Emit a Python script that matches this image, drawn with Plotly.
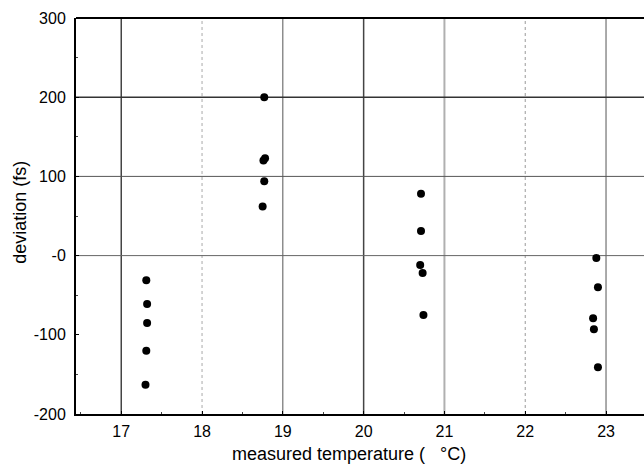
import plotly.graph_objects as go

temp = [17.31, 17.32, 17.32, 17.31, 17.30,
        18.77, 18.78, 18.76, 18.77, 18.75,
        20.71, 20.70, 20.73, 20.74,
        20.71,
        22.88, 22.90, 22.84, 22.85, 22.90]
dev = [-31, -61, -85, -120, -163,
       200, 123, 120, 94, 62,
       78, -12, -22, -75,
       31,
       -3, -40, -79, -93, -141]

x_ticks = [17, 18, 19, 20, 21, 22, 23]
y_ticks = [-200, -100, 0, 100, 200, 300]
y_labels = ["-200", "-100", "-0", "100", "200", "300"]
x_title = "measured temperature (\u00a0\u00a0\u00a0°C)"
y_title = "deviation (fs)"

# grid line styles (value, color, width, dash)
x_grid = [(17, "#444", 1.5, "solid"), (18, "#aaa", 1, "dot"), (19, "#555", 1, "solid"),
          (20, "#444", 1.5, "solid"), (21, "#b0b0b0", 2, "solid"), (22, "#999", 1, "dot"),
          (23, "#555", 1, "solid")]
y_grid = [(200, "#333", 1.5, "solid"), (100, "#555", 1, "solid"), (0, "#666", 1, "solid")]

fig = go.Figure()
fig.add_trace(go.Scatter(x=temp, y=dev, mode="markers",
                         marker=dict(color="black", size=8), showlegend=False))

shapes = []
for v, c, w, d in x_grid:
    shapes.append(dict(type="line", xref="x", yref="paper", x0=v, x1=v, y0=0, y1=1,
                       line=dict(color=c, width=w, dash=d), layer="below"))
for v, c, w, d in y_grid:
    shapes.append(dict(type="line", xref="paper", yref="y", x0=0, x1=1, y0=v, y1=v,
                       line=dict(color=c, width=w, dash=d), layer="below"))
shapes.append(dict(type="line", xref="paper", yref="paper", x0=0, x1=1, y0=1, y1=1,
                   line=dict(color="black", width=2)))
fig.update_layout(shapes=shapes)

tick_font = dict(family="Liberation Sans, Arial, sans-serif", size=16, color="black")
title_font = dict(family="Liberation Sans, Arial, sans-serif", size=18, color="black")

fig.update_layout(
    width=644, height=466,
    margin=dict(l=76, r=0, t=18, b=52),
    plot_bgcolor="white", paper_bgcolor="white",
    font=tick_font,
    xaxis=dict(range=[16.44, 23.47], tickvals=x_ticks, showgrid=False, zeroline=False,
               showline=True, linecolor="black", linewidth=2, ticks="inside", ticklen=3,
               tickcolor="black", tickfont=tick_font, ticklabelstandoff=2,
               minor=dict(dtick=0.5, ticks="inside", ticklen=2, tickcolor="#444")),
    yaxis=dict(range=[-200, 300], tickvals=y_ticks, ticktext=y_labels, showgrid=False,
               zeroline=False, showline=True, linecolor="black", linewidth=2,
               ticks="inside", ticklen=3, tickcolor="black", tickfont=tick_font,
               ticklabelstandoff=5,
               minor=dict(dtick=50, ticks="inside", ticklen=2, tickcolor="#444")),
    annotations=[
        dict(text=x_title, xref="paper", yref="paper", x=0.48, y=-0.1,
             xanchor="center", yanchor="middle", showarrow=False, font=title_font),
        dict(text=y_title, xref="paper", yref="paper", x=-0.099, y=0.51, textangle=-90,
             xanchor="center", yanchor="middle", showarrow=False, font=title_font),
    ],
)

fig.write_html("out.html")
